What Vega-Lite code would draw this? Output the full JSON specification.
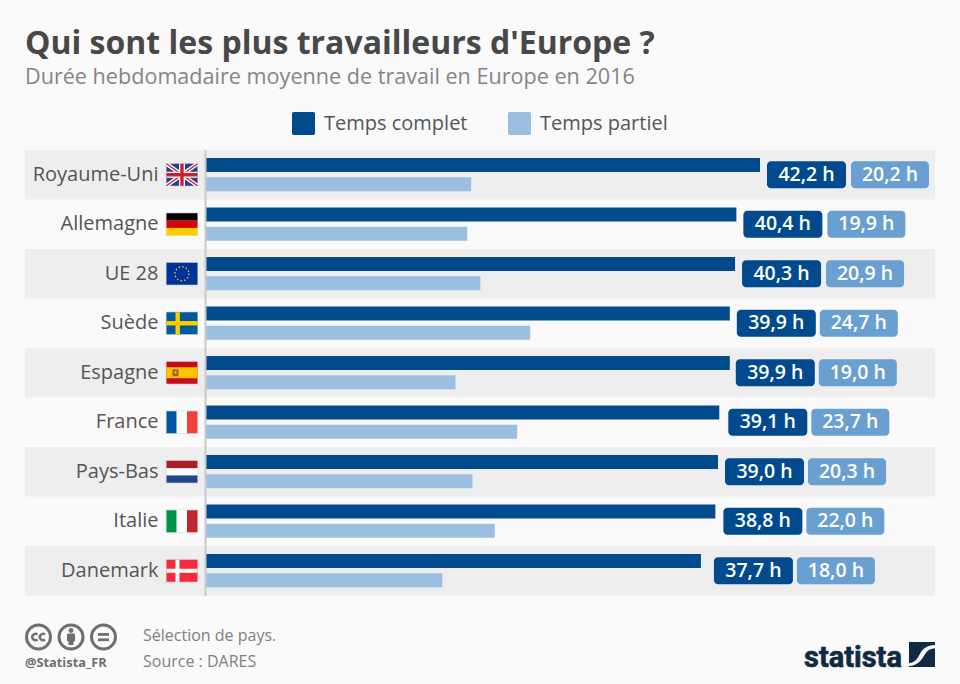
{
  "$schema": "https://vega.github.io/schema/vega-lite/v6.json",
  "width": 960,
  "height": 684,
  "padding": 0,
  "autosize": "none",
  "background": "#fafafa",
  "view": {"stroke": null},
  "config": {"font": "Open Sans"},
  "params": [
    {"name": "decalageComplet", "value": {"Royaume-Uni": 7, "Allemagne": 7, "UE 28": 7, "Suède": 7, "Espagne": 6, "France": 9, "Pays-Bas": 7, "Italie": 8, "Danemark": 13}},
    {"name": "decalagePartiel", "value": {"Royaume-Uni": 91, "Allemagne": 91, "UE 28": 91, "Suède": 90, "Espagne": 89, "France": 92, "Pays-Bas": 90, "Italie": 91, "Danemark": 96}}
  ],
  "title": {
    "text": "Qui sont les plus travailleurs d'Europe ?",
    "subtitle": "Durée hebdomadaire moyenne de travail en Europe en 2016",
    "anchor": "start",
    "frame": "group",
    "dx": 25,
    "offset": -90,
    "fontSize": 32,
    "fontWeight": 700,
    "color": "#484848",
    "subtitleFontSize": 21.6,
    "subtitleColor": "#858585",
    "subtitlePadding": 6
  },
  "datasets": {
    "heures": [
      {"pays": "Royaume-Uni", "type": "Temps complet", "heures": 42.2, "complet": 42.2, "etiquette": "42,2 h"},
      {"pays": "Royaume-Uni", "type": "Temps partiel", "heures": 20.2, "complet": 42.2, "etiquette": "20,2 h"},
      {"pays": "Allemagne", "type": "Temps complet", "heures": 40.4, "complet": 40.4, "etiquette": "40,4 h"},
      {"pays": "Allemagne", "type": "Temps partiel", "heures": 19.9, "complet": 40.4, "etiquette": "19,9 h"},
      {"pays": "UE 28", "type": "Temps complet", "heures": 40.3, "complet": 40.3, "etiquette": "40,3 h"},
      {"pays": "UE 28", "type": "Temps partiel", "heures": 20.9, "complet": 40.3, "etiquette": "20,9 h"},
      {"pays": "Suède", "type": "Temps complet", "heures": 39.9, "complet": 39.9, "etiquette": "39,9 h"},
      {"pays": "Suède", "type": "Temps partiel", "heures": 24.7, "complet": 39.9, "etiquette": "24,7 h"},
      {"pays": "Espagne", "type": "Temps complet", "heures": 39.9, "complet": 39.9, "etiquette": "39,9 h"},
      {"pays": "Espagne", "type": "Temps partiel", "heures": 19.0, "complet": 39.9, "etiquette": "19,0 h"},
      {"pays": "France", "type": "Temps complet", "heures": 39.1, "complet": 39.1, "etiquette": "39,1 h"},
      {"pays": "France", "type": "Temps partiel", "heures": 23.7, "complet": 39.1, "etiquette": "23,7 h"},
      {"pays": "Pays-Bas", "type": "Temps complet", "heures": 39.0, "complet": 39.0, "etiquette": "39,0 h"},
      {"pays": "Pays-Bas", "type": "Temps partiel", "heures": 20.3, "complet": 39.0, "etiquette": "20,3 h"},
      {"pays": "Italie", "type": "Temps complet", "heures": 38.8, "complet": 38.8, "etiquette": "38,8 h"},
      {"pays": "Italie", "type": "Temps partiel", "heures": 22.0, "complet": 38.8, "etiquette": "22,0 h"},
      {"pays": "Danemark", "type": "Temps complet", "heures": 37.7, "complet": 37.7, "etiquette": "37,7 h"},
      {"pays": "Danemark", "type": "Temps partiel", "heures": 18.0, "complet": 37.7, "etiquette": "18,0 h"}
    ],
    "drapeaux": [
      {"pays": "Royaume-Uni", "bande": true, "drapeau": "data:image/svg+xml,<svg xmlns='http://www.w3.org/2000/svg' width='33' height='24' viewBox='-1 -1 33 24'><rect x='-1' y='-1' width='33' height='24' fill='%23ddd'/><rect width='31' height='22' fill='%2324418f'/><path d='M0 0L31 22M31 0L0 22' stroke='%23fff' stroke-width='4'/><path d='M0 0L31 22M31 0L0 22' stroke='%23c8202f' stroke-width='1.5'/><path d='M15.5 0V22M0 11H31' stroke='%23fff' stroke-width='6'/><path d='M15.5 0V22M0 11H31' stroke='%23c8202f' stroke-width='3.4'/></svg>"},
      {"pays": "Allemagne", "bande": false, "drapeau": "data:image/svg+xml,<svg xmlns='http://www.w3.org/2000/svg' width='33' height='24' viewBox='-1 -1 33 24'><rect x='-1' y='-1' width='33' height='24' fill='%23ddd'/><rect width='31' height='7.4' fill='%23000'/><rect y='7.4' width='31' height='7.3' fill='%23dd0000'/><rect y='14.7' width='31' height='7.3' fill='%23ffce00'/></svg>"},
      {"pays": "UE 28", "bande": true, "drapeau": "data:image/svg+xml,<svg xmlns='http://www.w3.org/2000/svg' width='33' height='24' viewBox='-1 -1 33 24'><rect x='-1' y='-1' width='33' height='24' fill='%23ddd'/><rect width='31' height='22' fill='%23003399'/><circle cx='15.5' cy='11' r='7' fill='none' stroke='%23ffcc00' stroke-width='1.4' stroke-dasharray='1.4 2.27'/></svg>"},
      {"pays": "Suède", "bande": false, "drapeau": "data:image/svg+xml,<svg xmlns='http://www.w3.org/2000/svg' width='33' height='24' viewBox='-1 -1 33 24'><rect x='-1' y='-1' width='33' height='24' fill='%23ddd'/><rect width='31' height='22' fill='%23005b99'/><rect x='9' width='4.4' height='22' fill='%23fecc00'/><rect y='8.8' width='31' height='4.4' fill='%23fecc00'/></svg>"},
      {"pays": "Espagne", "bande": true, "drapeau": "data:image/svg+xml,<svg xmlns='http://www.w3.org/2000/svg' width='33' height='24' viewBox='-1 -1 33 24'><rect x='-1' y='-1' width='33' height='24' fill='%23ddd'/><rect width='31' height='22' fill='%23c60b1e'/><rect y='5.5' width='31' height='11' fill='%23ffc400'/><rect x='6' y='7.5' width='6' height='7' rx='1' fill='%23ad5b2f'/><rect x='8' y='9' width='2' height='3' fill='%23e8a33d'/></svg>"},
      {"pays": "France", "bande": false, "drapeau": "data:image/svg+xml,<svg xmlns='http://www.w3.org/2000/svg' width='33' height='24' viewBox='-1 -1 33 24'><rect x='-1' y='-1' width='33' height='24' fill='%23ddd'/><rect width='31' height='22' fill='%23fff'/><rect width='10' height='22' fill='%230055a4'/><rect x='20.5' width='10.5' height='22' fill='%23ef4135'/></svg>"},
      {"pays": "Pays-Bas", "bande": true, "drapeau": "data:image/svg+xml,<svg xmlns='http://www.w3.org/2000/svg' width='33' height='24' viewBox='-1 -1 33 24'><rect x='-1' y='-1' width='33' height='24' fill='%23ddd'/><rect width='31' height='22' fill='%23fff'/><rect width='31' height='7.4' fill='%23ae1c28'/><rect y='14.7' width='31' height='7.3' fill='%2321468b'/></svg>"},
      {"pays": "Italie", "bande": false, "drapeau": "data:image/svg+xml,<svg xmlns='http://www.w3.org/2000/svg' width='33' height='24' viewBox='-1 -1 33 24'><rect x='-1' y='-1' width='33' height='24' fill='%23ddd'/><rect width='31' height='22' fill='%23fff'/><rect width='10' height='22' fill='%23009246'/><rect x='20.5' width='10.5' height='22' fill='%23c1272d'/></svg>"},
      {"pays": "Danemark", "bande": true, "drapeau": "data:image/svg+xml,<svg xmlns='http://www.w3.org/2000/svg' width='33' height='24' viewBox='-1 -1 33 24'><rect x='-1' y='-1' width='33' height='24' fill='%23ddd'/><rect width='31' height='22' fill='%23f42a3d'/><rect x='9' width='4' height='22' fill='%23fff'/><rect y='9' width='31' height='4' fill='%23fff'/></svg>"}
    ],
    "pied": [
      {"role": "note", "x": 143, "y": 641, "texte": "Sélection de pays."},
      {"role": "note", "x": 143, "y": 667, "texte": "Source : DARES"},
      {"role": "compte", "x": 25, "y": 667, "texte": "@Statista_FR"},
      {"role": "logo", "x": 804, "y": 667, "texte": "statista"}
    ],
    "images": [
      {"x": 71.5, "y": 637, "largeur": 94, "image": "data:image/svg+xml,<svg xmlns='http://www.w3.org/2000/svg' width='94' height='30' viewBox='0 0 94 30'><g fill='none' stroke='%236f6f6f' stroke-width='3'><circle cx='14' cy='15' r='12'/><circle cx='46.5' cy='15' r='12'/><circle cx='79' cy='15' r='12'/><path stroke-width='2.4' d='M13 12.5a3.2 3.2 0 1 0 0 5M20.5 12.5a3.2 3.2 0 1 0 0 5'/></g><g fill='%236f6f6f'><circle cx='46.5' cy='8.5' r='2.4'/><rect x='42.5' y='11.5' width='8' height='8' rx='1'/><rect x='44' y='15' width='5' height='8'/><rect x='73.5' y='11' width='11' height='2.8'/><rect x='73.5' y='16.4' width='11' height='2.8'/></g></svg>"},
      {"x": 922, "y": 654.5, "largeur": 26, "image": "data:image/svg+xml,<svg xmlns='http://www.w3.org/2000/svg' width='26' height='25' viewBox='0 0 26 25'><rect width='26' height='25' fill='%230f2a41'/><path d='M0 21C7 21 9 15 12 10C14 7 18 3 26 3V6.5C20 6.5 18 9 15.5 13C13 17 9 24 0 24Z' fill='%23fafafa'/></svg>"}
    ]
  },
  "layer": [
    {
      "encoding": {
        "y": {
          "field": "pays",
          "type": "nominal",
          "sort": null,
          "scale": {
            "domain": ["Royaume-Uni", "Allemagne", "UE 28", "Suède", "Espagne", "France", "Pays-Bas", "Italie", "Danemark"],
            "range": [150, 595.5],
            "paddingInner": 0,
            "paddingOuter": 0
          },
          "axis": {
            "title": null,
            "orient": "left",
            "offset": -205,
            "zindex": 1,
            "ticks": false,
            "domainColor": "#c9c9c9",
            "domainWidth": 2,
            "labelPadding": 47,
            "labelFontSize": 20,
            "labelColor": "#555555",
            "labelFont": "Open Sans"
          }
        }
      },
      "layer": [
        {
          "data": {"name": "drapeaux"},
          "transform": [{"filter": "datum.bande"}],
          "mark": {"type": "rect", "fill": "#eeeeee"},
          "encoding": {
            "x": {"datum": -13.79, "type": "quantitative", "scale": {"domain": [0, 42.2], "range": [206, 760], "nice": false, "zero": false}, "axis": null},
            "x2": {"datum": 55.53}
          }
        },
        {
          "data": {"name": "heures"},
          "mark": {"type": "bar", "size": 14, "yOffset": -9.7},
          "transform": [{"filter": "datum.type === 'Temps complet'"}],
          "encoding": {
            "x": {"field": "heures", "type": "quantitative"},
            "color": {
              "field": "type",
              "type": "nominal",
              "scale": {"domain": ["Temps complet", "Temps partiel"], "range": ["#004a8d", "#9bbfe0"]},
              "legend": {
                "title": null,
                "orient": "none",
                "legendX": 292,
                "legendY": 112,
                "direction": "horizontal",
                "columns": 2,
                "columnPadding": 40,
                "symbolType": "M-0.85,-1H0.85Q1,-1 1,-0.85V0.85Q1,1 0.85,1H-0.85Q-1,1 -1,0.85V-0.85Q-1,-1 -0.85,-1Z",
                "symbolSize": 529,
                "symbolStrokeWidth": 0,
                "symbolOpacity": 1,
                "labelFontSize": 20,
                "labelColor": "#555555",
                "labelOffset": 9,
                "labelFont": "Open Sans"
              }
            }
          }
        },
        {
          "data": {"name": "heures"},
          "mark": {"type": "bar", "size": 14, "yOffset": 9.5},
          "transform": [{"filter": "datum.type === 'Temps partiel'"}],
          "encoding": {
            "x": {"field": "heures", "type": "quantitative"},
            "color": {"field": "type", "type": "nominal"}
          }
        },
        {
          "data": {"name": "heures"},
          "transform": [{"filter": "datum.type === 'Temps complet'"}],
          "mark": {
            "type": "rect",
            "fill": "#004a8d",
            "cornerRadius": 4,
            "height": 27,
            "xOffset": {"expr": "decalageComplet[datum.pays]"},
            "x2Offset": {"expr": "decalageComplet[datum.pays] + 79"}
          },
          "encoding": {
            "x": {"field": "complet", "type": "quantitative"},
            "x2": {"field": "complet"}
          }
        },
        {
          "data": {"name": "heures"},
          "transform": [{"filter": "datum.type === 'Temps partiel'"}],
          "mark": {
            "type": "rect",
            "fill": "#6a9fd2",
            "cornerRadius": 4,
            "height": 27,
            "xOffset": {"expr": "decalagePartiel[datum.pays]"},
            "x2Offset": {"expr": "decalagePartiel[datum.pays] + 78"}
          },
          "encoding": {
            "x": {"field": "complet", "type": "quantitative"},
            "x2": {"field": "complet"}
          }
        },
        {
          "data": {"name": "heures"},
          "transform": [{"filter": "datum.type === 'Temps complet'"}],
          "mark": {"type": "text", "color": "#ffffff", "fontSize": 19.5, "fontWeight": 600, "xOffset": {"expr": "decalageComplet[datum.pays] + 39.5"}},
          "encoding": {
            "x": {"field": "complet", "type": "quantitative"},
            "text": {"field": "etiquette"}
          }
        },
        {
          "data": {"name": "heures"},
          "transform": [{"filter": "datum.type === 'Temps partiel'"}],
          "mark": {"type": "text", "color": "#ffffff", "fontSize": 19.5, "fontWeight": 600, "xOffset": {"expr": "decalagePartiel[datum.pays] + 39"}},
          "encoding": {
            "x": {"field": "complet", "type": "quantitative"},
            "text": {"field": "etiquette"}
          }
        },
        {
          "data": {"name": "drapeaux"},
          "mark": {"type": "image", "width": 33, "height": 24, "aspect": false, "align": "center", "baseline": "middle"},
          "encoding": {
            "x": {"datum": -1.83, "type": "quantitative"},
            "url": {"field": "drapeau", "type": "nominal"}
          }
        }
      ]
    },
    {
      "encoding": {
        "x": {"field": "x", "type": "quantitative", "scale": {"domain": [0, 960], "range": [0, 960], "nice": false, "zero": false}, "axis": null},
        "y": {"field": "y", "type": "quantitative", "scale": {"domain": [0, 684], "range": [0, 684], "nice": false, "zero": false}, "axis": null}
      },
      "layer": [
        {
          "data": {"name": "pied"},
          "transform": [{"filter": "datum.role === 'note'"}],
          "mark": {"type": "text", "align": "left", "baseline": "alphabetic", "fontSize": 16, "color": "#808080"},
          "encoding": {"text": {"field": "texte"}}
        },
        {
          "data": {"name": "pied"},
          "transform": [{"filter": "datum.role === 'compte'"}],
          "mark": {"type": "text", "align": "left", "baseline": "alphabetic", "fontSize": 12.8, "fontWeight": 700, "color": "#6f6f6f"},
          "encoding": {"text": {"field": "texte"}}
        },
        {
          "data": {"name": "pied"},
          "transform": [{"filter": "datum.role === 'logo'"}],
          "mark": {"type": "text", "align": "left", "baseline": "alphabetic", "font": "Roboto", "fontSize": 29, "fontWeight": 700, "color": "#0f2a41", "stroke": "#0f2a41", "strokeWidth": 0.6},
          "encoding": {"text": {"field": "texte"}}
        },
        {
          "data": {"name": "images"},
          "mark": {"type": "image", "aspect": false, "align": "center", "baseline": "middle", "width": 94, "height": 30},
          "transform": [{"filter": "datum.largeur === 94"}],
          "encoding": {"url": {"field": "image", "type": "nominal"}}
        },
        {
          "data": {"name": "images"},
          "mark": {"type": "image", "aspect": false, "align": "center", "baseline": "middle", "width": 26, "height": 25},
          "transform": [{"filter": "datum.largeur === 26"}],
          "encoding": {"url": {"field": "image", "type": "nominal"}}
        }
      ]
    }
  ],
  "resolve": {"scale": {"x": "independent", "y": "independent"}}
}
